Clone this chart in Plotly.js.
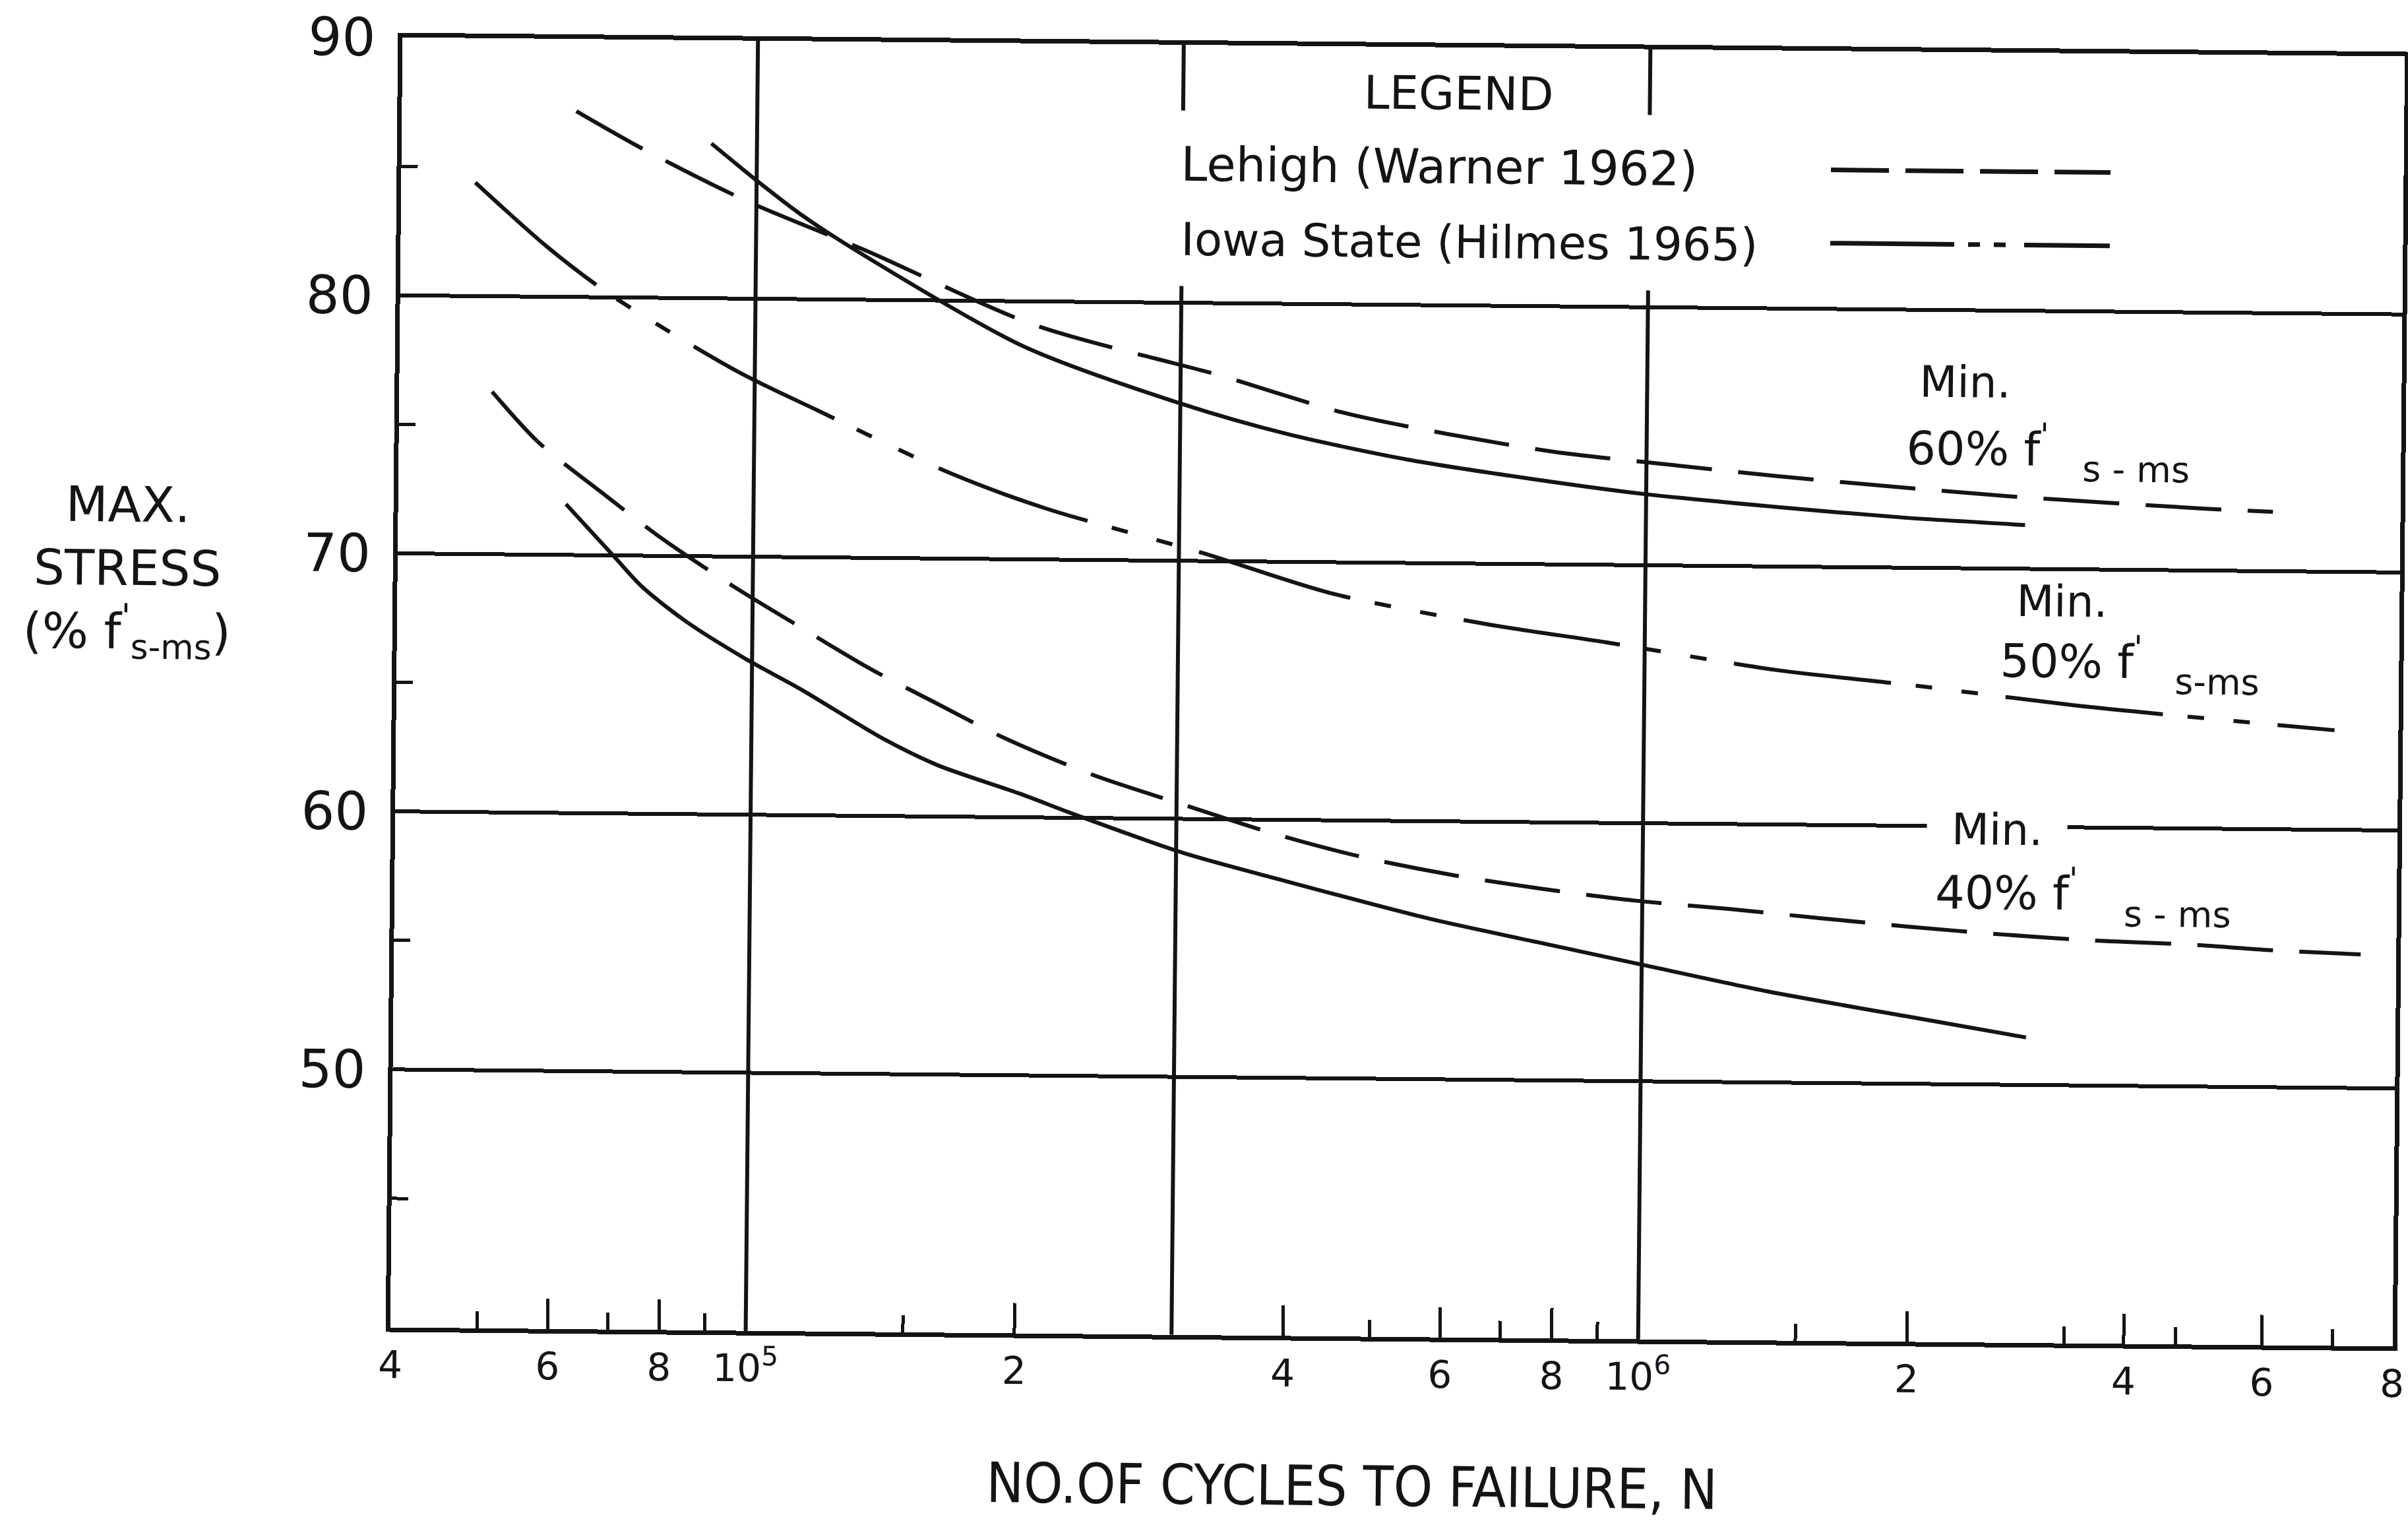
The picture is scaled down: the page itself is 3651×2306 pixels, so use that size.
<!DOCTYPE html>
<html><head><meta charset="utf-8">
<script src="https://cdn.plot.ly/plotly-3.0.1.min.js"></script>
<style>
html,body{margin:0;padding:0;background:#fff;overflow:hidden;}
#chart{width:3651px;height:2306px;transform:rotate(0.545deg);transform-origin:2119px 1049px;}
</style></head><body><div id="chart"></div>
<script>
// ---- data: N = number of cycles to failure, S = max. stress (% f's-ms)
const lehigh60N = [62700, 75100, 97300, 133000, 205000, 332000, 457000, 601000, 792000, 1066000, 1405000, 1870000, 2570000, 3270000, 4230000, 5040000];
const lehigh60S = [87.2, 85.7, 83.8, 81.9, 79.1, 77.2, 75.8, 75.0, 74.35, 73.9, 73.5, 73.15, 72.8, 72.6, 72.4, 72.3];

const iowa60N = [88900, 100700, 112000, 131000, 200000, 300000, 396000, 541000, 745000, 1000000, 1410000, 1930000, 2660000];
const iowa60S = [86.0, 84.5, 83.3, 81.8, 78.25, 76.1, 74.95, 74.0, 73.3, 72.75, 72.3, 71.95, 71.7];

const iowa50N = [48400, 58270, 68500, 95700, 117600, 166300, 213000, 319800, 444500, 664600, 904500, 1410000, 1980000, 3030000, 3980000, 5940000];
const iowa50S = [84.4, 81.95, 80.14, 77.17, 75.7, 73.3, 71.97, 70.3, 68.8, 67.66, 67.0, 65.98, 65.46, 64.73, 64.36, 63.86];

const lehigh40N = [50800, 57300, 67530, 78960, 95000, 113300, 134500, 160400, 192900, 242100, 305300, 385800, 487400, 615700, 776100, 980000, 1250000, 1580000, 1990000, 2540000, 3210000, 4100000, 5010000, 6390000];
const lehigh40S = [76.3, 74.36, 72.44, 70.68, 68.86, 67.28, 65.77, 64.42, 63.04, 61.66, 60.55, 59.46, 58.57, 57.91, 57.41, 57.0, 56.71, 56.39, 56.09, 55.82, 55.62, 55.5, 55.32, 55.18];

const iowa40N = [61630, 69980, 75250, 84240, 98470, 113500, 140600, 161800, 200100, 230700, 305700, 395900, 578000, 762000, 1007000, 1384000, 2060000, 2700000];
const iowa40S = [71.97, 69.93, 68.78, 67.47, 66.03, 64.88, 62.99, 61.99, 60.92, 60.13, 58.68, 57.65, 56.22, 55.36, 54.5, 53.53, 52.52, 51.84];

// ---- axes / ticks
const xTickVals = [4e4, 6e4, 8e4, 1e5, 2e5, 4e5, 6e5, 8e5, 1e6, 2e6, 3.5e6, 5e6, 7e6];
const xTickText = ["4", "6", "8", "10<sup>5</sup>", "2", "4", "6", "8", "10<sup>6</sup>", "2", "4", "6", "8"];
const xMinorVals = [5e4, 7e4, 9e4, 1.5e5, 5e5, 7e5, 9e5, 1.5e6, 3e6, 4e6, 6e6];
const xRangeN = [4e4, 7e6];
const yTickVals = [40, 50, 60, 70, 80, 90];
const yTickText = ["", "50", "60", "70", "80", "90"];
const yMinorVals = [45, 55, 65, 75, 85];
const yRange = [40, 90];
const xGridN = [1e5, 3e5, 1e6];
const legendBoxN = [3e5, 1e6];       // gridlines interrupted behind the legend text
const legendGapS = [80.65, 87.45];
const legendSampleN = [1.598e6, 3.287e6];
const legendLehighS = [85.39, 85.39];
const legendIowaS = [82.55, 82.55];

const INK = '#141414';
const FONT = 'DejaVu Sans, Noto Sans, sans-serif';
const DASH_LEHIGH = '115px,40px';
const DASH_IOWA50 = '240px,38px,25px,45px,25px,42px';

const traces = [
  {name: 'Lehigh (Warner 1962), Min. 60%', x: lehigh60N, y: lehigh60S},
  {name: 'Iowa State (Hilmes 1965), Min. 60%', x: iowa60N, y: iowa60S},
  {name: 'Iowa State (Hilmes 1965), Min. 50%', x: iowa50N, y: iowa50S},
  {name: 'Lehigh (Warner 1962), Min. 40%', x: lehigh40N, y: lehigh40S},
  {name: 'Iowa State (Hilmes 1965), Min. 40%', x: iowa40N, y: iowa40S}
].map((t, i) => Object.assign(t, {
  type: 'scatter', mode: 'lines', showlegend: false, hoverinfo: 'skip',
  line: {color: INK, width: 6, shape: 'spline', smoothing: 0.8,
         dash: [DASH_LEHIGH, 'solid', DASH_IOWA50, DASH_LEHIGH, 'solid'][i]}
}));
traces.push({type: 'scatter', mode: 'lines', showlegend: false, hoverinfo: 'skip',
  x: legendSampleN, y: legendLehighS, line: {color: INK, width: 7, dash: '88px,25px'}});
traces.push({type: 'scatter', mode: 'lines', showlegend: false, hoverinfo: 'skip',
  x: legendSampleN, y: legendIowaS, line: {color: INK, width: 7, dash: '188px,21px,18px,21px,18px,28px'}});

const xr = [Math.log10(xRangeN[0]) - 0.0003, Math.log10(xRangeN[1]) + 0.0003];
const toPaperX = n => (Math.log10(n) - xr[0]) / (xr[1] - xr[0]);

const shapes = [];
xGridN.forEach(n => {
  const px = toPaperX(n);
  const segs = legendBoxN.includes(n) ? [[yRange[0], legendGapS[0]], [legendGapS[1], yRange[1]]] : [[yRange[0], yRange[1]]];
  segs.forEach(s => shapes.push({type: 'line', xref: 'paper', yref: 'y', x0: px, x1: px, y0: s[0], y1: s[1],
    layer: 'above', line: {color: INK, width: 6}}));
});

function ann(text, lx, y, size, anchor, extra) {
  return Object.assign({text: text, x: lx, y: y, xref: 'x', yref: 'y', showarrow: false,
    xanchor: anchor || 'center', yanchor: 'middle', font: {family: FONT, size: size, color: INK}}, extra || {});
}

const annotations = [
  ann('LEGEND', 5.786, 88.2, 70),
  ann('Lehigh (Warner 1962)', 5.4738, 85.38, 72, 'left'),
  ann('Iowa State (Hilmes 1965)', 5.4746, 82.47, 69, 'left'),
  ann('Min.', 6.356, 77.21, 66),
  ann("60% f<sup>'</sup>", 6.2896, 74.75, 70, 'left'),
  ann('s - ms', 6.4873, 73.88, 54, 'left'),
  ann('Min.', 6.4673, 68.74, 66),
  ann("50% f<sup>'</sup>", 6.397, 66.55, 70, 'left'),
  ann('s-ms', 6.5924, 65.69, 54, 'left'),
  ann('&nbsp;Min.&nbsp;', 6.397, 59.88, 66, 'center', {bgcolor: '#ffffff', borderpad: 16}),
  ann("40% f<sup>'</sup>", 6.3266, 57.55, 70, 'left'),
  ann('s - ms', 6.5382, 56.65, 54, 'left'),
  {text: "MAX.<br>STRESS<br>(% f<sup>'</sup><sub>s-ms</sub>)", xref: 'paper', yref: 'paper', x: -0.135, y: 0.584,
   xanchor: 'center', yanchor: 'middle', showarrow: false, align: 'center',
   font: {family: FONT, size: 74, color: INK}},
  {text: 'NO.OF CYCLES TO FAILURE, N', xref: 'paper', yref: 'paper', x: 0.481, y: -0.116,
   xanchor: 'center', yanchor: 'middle', showarrow: false,
   font: {family: 'DejaVu Sans Condensed, DejaVu Sans, sans-serif', size: 84, color: INK}}
];

const layout = {
  width: 3651, height: 2306,
  margin: {l: 601, r: 14, t: 71, b: 279},
  paper_bgcolor: '#ffffff', plot_bgcolor: '#ffffff',
  showlegend: false,
  xaxis: {
    type: 'log', range: xr,
    tickmode: 'array', tickvals: xTickVals, ticktext: xTickText,
    ticks: 'inside', ticklen: 46, tickwidth: 5, tickcolor: INK,
    minor: {tickmode: 'array', tickvals: xMinorVals, ticks: 'inside', ticklen: 26, tickwidth: 5, tickcolor: INK, showgrid: false},
    showgrid: false, zeroline: false,
    showline: true, mirror: true, linewidth: 7, linecolor: INK,
    tickfont: {family: FONT, size: 58, color: INK}, ticklabelstandoff: 0,
    ticklabeloverflow: 'allow'
  },
  yaxis: {
    range: yRange, tickmode: 'array', tickvals: yTickVals, ticktext: yTickText,
    ticks: '', showgrid: true, gridcolor: INK, gridwidth: 6, zeroline: false,
    minor: {tickmode: 'array', tickvals: yMinorVals, ticks: 'inside', ticklen: 25, tickwidth: 5, tickcolor: INK, showgrid: false},
    showline: true, mirror: true, linewidth: 7, linecolor: INK,
    tickfont: {family: FONT, size: 80, color: INK}, ticklabelstandoff: 18
  },
  shapes: shapes,
  annotations: annotations
};

Plotly.newPlot('chart', traces, layout, {displayModeBar: false, staticPlot: true});
</script></body></html>
